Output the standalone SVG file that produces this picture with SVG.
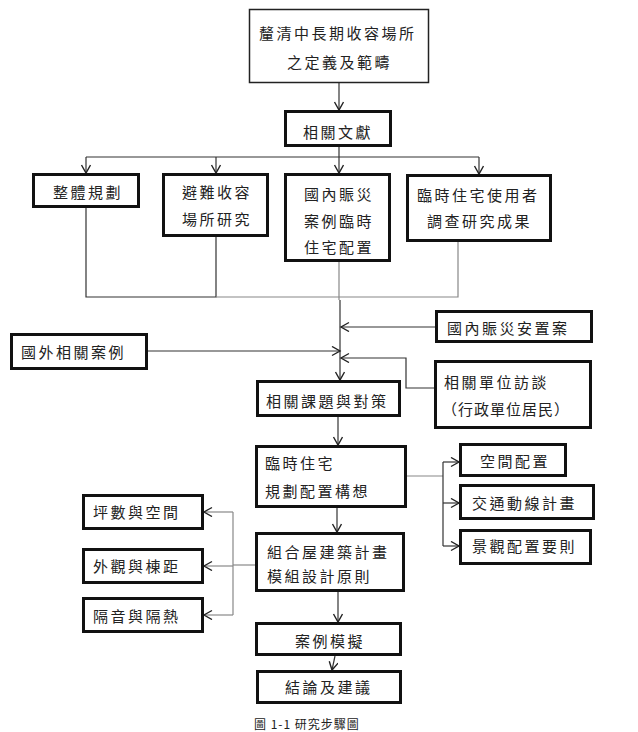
<svg xmlns="http://www.w3.org/2000/svg" width="638" height="732" viewBox="0 0 638 732">
<style>
.box{fill:#fff;stroke:#111;stroke-width:3}
.thin{fill:#fff;stroke:#222;stroke-width:1.5}
text{font-family:"Noto Sans CJK TC","Noto Sans CJK SC",sans-serif;font-size:15px;fill:#222;letter-spacing:2.5px}
.c{fill:none;stroke:#333;stroke-width:1.2}
.g{fill:none;stroke:#888;stroke-width:1.2}
</style>
<defs>
<marker id="a" markerUnits="userSpaceOnUse" markerWidth="12" markerHeight="12" refX="9" refY="5" orient="auto">
<path d="M1,0.5 L9,5 L1,9.5" fill="none" stroke="#222" stroke-width="1.4"/>
</marker>
</defs>
<rect width="638" height="732" fill="#fff"/>
<g id="connectors">
<path class="c" d="M339,83 V110" marker-end="url(#a)"/>
<path class="c" d="M339,147 V173" marker-end="url(#a)"/>
<path class="c" d="M86,157 H479"/>
<path class="c" d="M86,157 V173" marker-end="url(#a)"/>
<path class="c" d="M216,157 V173" marker-end="url(#a)"/>
<path class="c" d="M479,157 V174" marker-end="url(#a)"/>
<path class="c" d="M86,208 V297 H216 V237"/>
<path class="g" d="M216,297 H458 V242"/>
<path class="g" d="M339,262 V300"/>
<path class="c" d="M340,300 V380" marker-end="url(#a)"/>
<path class="c" d="M435,327 H341" marker-end="url(#a)"/>
<path class="c" d="M148,351 H340" marker-end="url(#a)"/>
<path class="c" d="M434,388 H406 V358 H341" marker-end="url(#a)"/>
<path class="c" d="M338,417 V445" marker-end="url(#a)"/>
<path class="g" d="M407,476 H443"/>
<path class="c" d="M443,462 V546"/>
<path class="c" d="M443,462 H459" marker-end="url(#a)"/>
<path class="c" d="M443,503 H459" marker-end="url(#a)"/>
<path class="c" d="M443,546 H459" marker-end="url(#a)"/>
<path class="c" d="M337,508 V532" marker-end="url(#a)"/>
<path class="g" d="M255,565 H233"/>
<path class="g" d="M233,512 V615"/>
<path class="g" d="M233,512 H204" marker-end="url(#a)"/>
<path class="g" d="M233,566 H204" marker-end="url(#a)"/>
<path class="g" d="M233,615 H204" marker-end="url(#a)"/>
<path class="c" d="M338,592 V622" marker-end="url(#a)"/>
<path class="c" d="M335,656 L332,670" marker-end="url(#a)"/>
</g>
<g id="n1"><rect class="thin" x="249.5" y="9.5" width="179" height="73"/><text x="259" y="38.5">釐清中長期收容場所</text><text x="287" y="67.5">之定義及範疇</text></g>
<g id="n2"><rect class="box" x="285.5" y="111.5" width="105" height="34"/><text x="303" y="137.5">相關文獻</text></g>
<g id="n3"><rect class="box" x="33.5" y="174.5" width="105" height="32"/><text x="53" y="198">整體規劃</text></g>
<g id="n4"><rect class="box" x="163.5" y="174.5" width="104" height="61"/><text x="182" y="198">避難收容</text><text x="182" y="225">場所研究</text></g>
<g id="n5"><rect class="box" x="285.5" y="174.5" width="104" height="86"/><text x="304" y="200">國內賑災</text><text x="304" y="227">案例臨時</text><text x="304" y="253">住宅配置</text></g>
<g id="n6"><rect class="box" x="407.5" y="175.5" width="143" height="65"/><text x="417" y="201">臨時住宅使用者</text><text x="427" y="227">調查研究成果</text></g>
<g id="n7"><rect class="box" x="436.5" y="311.5" width="155" height="30"/><text x="447" y="334">國內賑災安置案</text></g>
<g id="n8"><rect class="box" x="11.5" y="334.5" width="135" height="34"/><text x="21" y="358">國外相關案例</text></g>
<g id="n9"><rect class="box" x="435.5" y="361.5" width="155" height="66"/><text x="444" y="388">相關單位訪談</text><text x="442" y="415" style="letter-spacing:1px">（行政單位居民）</text></g>
<g id="n10"><rect class="box" x="257.5" y="381.5" width="142" height="34"/><text x="266" y="407">相關課題與對策</text></g>
<g id="n11"><rect class="box" x="256.5" y="446.5" width="149" height="60"/><text x="265" y="469">臨時住宅</text><text x="265" y="497">規劃配置構想</text></g>
<g id="n12"><rect class="box" x="256.5" y="533.5" width="147" height="57"/><text x="267" y="558">組合屋建築計畫</text><text x="267" y="582">模組設計原則</text></g>
<g id="n13"><rect class="box" x="83.5" y="495.5" width="119" height="33"/><text x="93" y="518">坪數與空間</text></g>
<g id="n14"><rect class="box" x="83.5" y="549.5" width="119" height="33"/><text x="93" y="572">外觀與棟距</text></g>
<g id="n15"><rect class="box" x="83.5" y="598.5" width="119" height="33"/><text x="93" y="622">隔音與隔熱</text></g>
<g id="n16"><rect class="box" x="460.5" y="444.5" width="105" height="31"/><text x="480" y="467">空間配置</text></g>
<g id="n17"><rect class="box" x="460.5" y="485.5" width="133" height="33"/><text x="472" y="509">交通動線計畫</text></g>
<g id="n18"><rect class="box" x="460.5" y="530.5" width="130" height="33"/><text x="472" y="552">景觀配置要則</text></g>
<g id="n19"><rect class="box" x="256.5" y="623.5" width="144" height="31"/><text x="295" y="647">案例模擬</text></g>
<g id="n20"><rect class="box" x="257.5" y="671.5" width="143" height="31"/><text x="285" y="693">結論及建議</text></g>
<text x="254" y="729" style="font-size:12px;letter-spacing:1px">圖 1-1 研究步驟圖</text>
</svg>
